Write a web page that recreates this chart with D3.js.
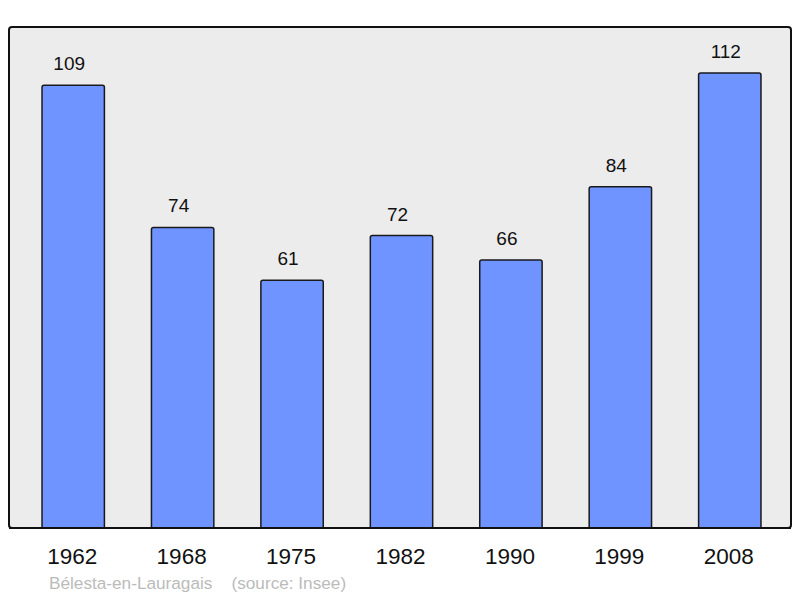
<!DOCTYPE html>
<html>
<head>
<meta charset="utf-8">
<script src="https://cdn.jsdelivr.net/npm/d3@7"></script>
<style>
  body { margin: 0; background: #fff; }
  text { font-family: "Liberation Sans", Arial, sans-serif; }
</style>
</head>
<body>
<div id="chart"></div>
<script>
// Population by census year
const years = ['1962', '1968', '1975', '1982', '1990', '1999', '2008'];
const population = [109, 74, 61, 72, 66, 84, 112];

const width = 800;
const height = 598;

const svg = d3.select('#chart')
    .append('svg')
    .attr('width', width)
    .attr('height', height);

// Frame
svg.append('rect')
    .attr('x', 9)
    .attr('y', 27)
    .attr('width', 782)
    .attr('height', 501)
    .attr('rx', 3)
    .style('fill', '#ececec')
    .style('stroke', '#111')
    .style('stroke-width', 2);

const x = d3.scaleBand()
    .domain(years)
    .range([18.5, 784.5])
    .paddingInner(0.43)
    .paddingOuter(0.215);

const y = d3.scaleLinear()
    .domain([0, 112])
    .range([528, 73]);

// Bars
svg.append('g')
    .selectAll('path')
    .data(years)
    .enter().append('path')
    .attr('d', (d, i) => {
        const x0 = x(d), x1 = x(d) + x.bandwidth();
        const top = y(population[i]), r = 2;
        return `M${x0},${y(0)} V${top + r} Q${x0},${top} ${x0 + r},${top} H${x1 - r} Q${x1},${top} ${x1},${top + r} V${y(0)}`;
    })
    .style('fill', '#7094ff')
    .style('stroke', '#1a1a1a')
    .style('stroke-width', 1.5);

// Value labels
svg.append('g')
    .selectAll('text')
    .data(years)
    .enter().append('text')
    .attr('x', d => x(d) + x.bandwidth() / 2 - 4)
    .attr('y', (d, i) => y(population[i]) - 15)
    .attr('text-anchor', 'middle')
    .style('font-size', '19px')
    .style('fill', '#111')
    .text((d, i) => population[i]);

// Baseline redraw over bar bottoms
svg.append('line')
    .attr('x1', 9).attr('x2', 791)
    .attr('y1', 528).attr('y2', 528)
    .style('stroke', '#111')
    .style('stroke-width', 2);

// Year labels
svg.append('g')
    .selectAll('text')
    .data(years)
    .enter().append('text')
    .attr('x', d => x(d) + x.bandwidth() / 2 - 1)
    .attr('y', 564)
    .attr('text-anchor', 'middle')
    .style('font-size', '22.5px')
    .style('fill', '#111')
    .text(d => d);

// Source line
svg.append('text')
    .attr('x', 49)
    .attr('y', 589)
    .style('font-size', '17.2px')
    .style('fill', '#bbbbbb')
    .attr('xml:space', 'preserve')
    .style('white-space', 'pre')
    .text('Bélesta-en-Lauragais    (source: Insee)');
</script>
</body>
</html>
